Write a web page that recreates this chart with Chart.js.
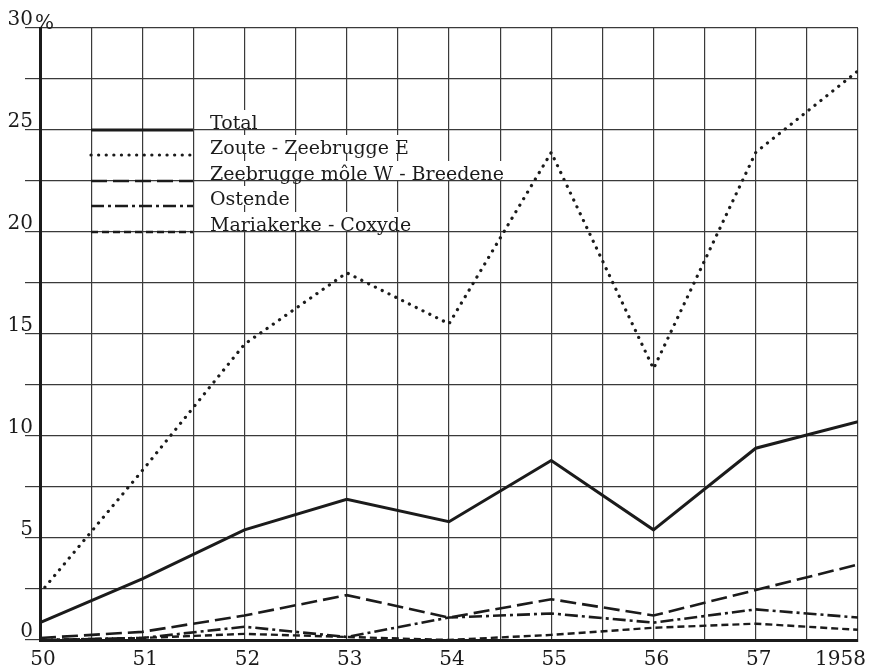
<!DOCTYPE html>
<html>
<head>
<meta charset="utf-8">
<script src="https://cdn.jsdelivr.net/npm/chart.js"></script>
<style>
  html, body { margin: 0; padding: 0; background: #fff; }
  #wrap { width: 873px; height: 668px; }
</style>
</head>
<body>
<div id="wrap"><canvas id="chart"></canvas></div>
<script>
// années (50 ... 1958) et pourcentages
const years = [50, 51, 52, 53, 54, 55, 56, 57, 58];
const yearLabels = ['50', '51', '52', '53', '54', '55', '56', '57', '1958'];
const total      = [0.85, 3.0, 5.4, 6.9, 5.8, 8.8, 5.4, 9.4, 10.7];
const zoute      = [2.3, 8.3, 14.5, 18.0, 15.5, 23.9, 13.3, 23.9, 27.9];
const zeebrugge  = [0.1, 0.4, 1.2, 2.2, 1.1, 2.0, 1.2, 2.45, 3.7];
const ostende    = [0.0, 0.1, 0.65, 0.15, 1.1, 1.3, 0.85, 1.5, 1.1];
const mariakerke = [0.0, 0.1, 0.3, 0.15, 0.0, 0.25, 0.6, 0.8, 0.5];

const INK = '#1b1b1b';
const FONT = '"DejaVu Serif", serif';

function pts(values) {
    return values.map((v, i) => ({ x: years[i], y: v }));
}

// légende dessinée dans le graphique, comme sur l'original
const legendPlugin = {
    id: 'inlineLegend',
    afterDatasetsDraw(chart) {
        const ctx = chart.ctx;
        const rows = [130, 155, 181, 206, 232];
        ctx.save();
        ctx.font = '19px ' + FONT;
        chart.data.datasets.forEach((ds, i) => {
            const y = rows[i];
            const w = ctx.measureText(ds.label).width;
            ctx.fillStyle = '#fff';
            ctx.fillRect(205, y - 20, w + 8, 19);
            ctx.fillStyle = INK;
            ctx.textAlign = 'left';
            ctx.textBaseline = 'alphabetic';
            ctx.fillText(ds.label, 210, y - 1);
            ctx.strokeStyle = INK;
            ctx.lineWidth = ds.borderWidth;
            ctx.lineCap = ds.borderCapStyle || 'butt';
            ctx.setLineDash(ds.borderDash || []);
            ctx.beginPath();
            ctx.moveTo(91, y);
            ctx.lineTo(193, y);
            ctx.stroke();
        });
        ctx.restore();
    }
};

// étiquettes de l'axe x et signe % en haut de l'axe y
const labelsPlugin = {
    id: 'axisText',
    afterDraw(chart) {
        const ctx = chart.ctx;
        const xs = chart.scales.x;
        const ys = chart.scales.y;
        ctx.save();
        ctx.font = '20px ' + FONT;
        ctx.fillStyle = INK;
        ctx.textBaseline = 'alphabetic';
        years.forEach((yr, i) => {
            const px = xs.getPixelForValue(yr);
            if (i === years.length - 1) {
                ctx.textAlign = 'right';
                ctx.fillText(yearLabels[i], px + 8, 665);
            } else {
                ctx.textAlign = 'center';
                ctx.fillText(yearLabels[i], px + 3, 665);
            }
        });
        ctx.textAlign = 'left';
        ctx.fillText('%', 35, ys.getPixelForValue(30) + 1);
        ctx.restore();
    }
};

new Chart(document.getElementById('chart'), {
    type: 'line',
    data: {
        datasets: [{
            label: 'Total',
            data: pts(total),
            borderColor: INK,
            borderWidth: 3
        }, {
            label: 'Zoute - Zeebrugge E',
            data: pts(zoute),
            borderColor: INK,
            borderWidth: 3.2,
            borderDash: [0.1, 7.5],
            borderCapStyle: 'round'
        }, {
            label: 'Zeebrugge môle W - Breedene',
            data: pts(zeebrugge),
            borderColor: INK,
            borderWidth: 2.6,
            borderDash: [16, 6]
        }, {
            label: 'Ostende',
            data: pts(ostende),
            borderColor: INK,
            borderWidth: 2.6,
            borderDash: [13, 4, 3, 4]
        }, {
            label: 'Mariakerke - Coxyde',
            data: pts(mariakerke),
            borderColor: INK,
            borderWidth: 2.4,
            borderDash: [7, 4]
        }]
    },
    options: {
        responsive: true,
        maintainAspectRatio: false,
        animation: false,
        elements: {
            point: { radius: 0 },
            line: { tension: 0, fill: false }
        },
        layout: { padding: { top: 28, right: 15, left: 0, bottom: 0 } },
        plugins: {
            legend: { display: false },
            tooltip: { enabled: false }
        },
        scales: {
            x: {
                type: 'linear',
                min: 50,
                max: 58,
                grid: { color: '#3a3a3a', lineWidth: 1.2, drawTicks: false },
                border: { display: true, color: INK, width: 3 },
                ticks: { stepSize: 0.5, display: false },
                afterFit(scale) {
                    scale.height = 28;
                    scale.paddingLeft = 0;
                    scale.paddingRight = 0;
                }
            },
            y: {
                min: 0,
                max: 30,
                grid: { color: '#3a3a3a', lineWidth: 1.2, drawTicks: true, tickLength: 15 },
                border: { display: true, color: INK, width: 3 },
                ticks: {
                    stepSize: 2.5,
                    padding: -8,
                    labelOffset: -8,
                    color: INK,
                    font: { family: FONT, size: 20 },
                    callback: v => (v % 5 === 0 ? String(v) : '')
                },
                afterFit(scale) {
                    scale.width = 40;
                    scale.paddingTop = 0;
                    scale.paddingBottom = 0;
                }
            }
        }
    },
    plugins: [legendPlugin, labelsPlugin]
});
</script>
</body>
</html>
